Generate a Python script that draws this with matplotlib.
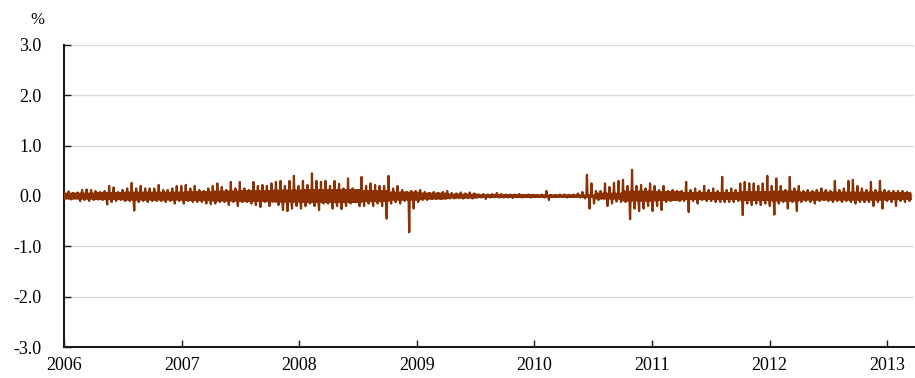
import matplotlib
matplotlib.use("Agg")
import matplotlib.pyplot as plt
import pandas as pd

plt.rcParams["font.family"] = ["Liberation Serif", "DejaVu Serif"]
plt.rcParams["axes.unicode_minus"] = False

# two-week highs / lows (%), 26 periods per year
hi_2006 = [0.07, 0.09, 0.06, 0.07, 0.12, 0.13, 0.12, 0.10, 0.08, 0.10, 0.20, 0.17, 0.08,
           0.12, 0.15, 0.26, 0.15, 0.20, 0.15, 0.15, 0.15, 0.22, 0.12, 0.12, 0.15, 0.20]
lo_2006 = [-0.05, -0.07, -0.05, -0.10, -0.08, -0.10, -0.08, -0.07, -0.08, -0.17, -0.12, -0.10, -0.08,
           -0.10, -0.10, -0.29, -0.12, -0.10, -0.12, -0.10, -0.10, -0.10, -0.12, -0.10, -0.15, -0.10]
hi_2007 = [0.20, 0.22, 0.15, 0.20, 0.12, 0.10, 0.15, 0.20, 0.25, 0.18, 0.12, 0.28, 0.15,
           0.28, 0.15, 0.12, 0.28, 0.20, 0.22, 0.20, 0.25, 0.28, 0.30, 0.20, 0.30, 0.40]
lo_2007 = [-0.15, -0.10, -0.12, -0.12, -0.12, -0.15, -0.16, -0.15, -0.12, -0.12, -0.18, -0.12, -0.20,
           -0.12, -0.12, -0.15, -0.18, -0.22, -0.12, -0.20, -0.10, -0.18, -0.28, -0.30, -0.25, -0.20]
hi_2008 = [0.20, 0.30, 0.22, 0.45, 0.30, 0.28, 0.30, 0.20, 0.30, 0.24, 0.15, 0.35, 0.15,
           0.12, 0.38, 0.20, 0.25, 0.22, 0.20, 0.20, 0.40, 0.15, 0.20, 0.12, 0.08, 0.10]
lo_2008 = [-0.25, -0.20, -0.15, -0.20, -0.28, -0.15, -0.15, -0.25, -0.20, -0.26, -0.20, -0.15, -0.12,
           -0.20, -0.20, -0.15, -0.20, -0.15, -0.20, -0.45, -0.15, -0.12, -0.15, -0.10, -0.72, -0.25]
hi_2009 = [0.10, 0.12, 0.08, 0.06, 0.08, 0.06, 0.08, 0.10, 0.06, 0.05, 0.07, 0.05, 0.07,
           0.05, 0.03, 0.04, 0.03, 0.04, 0.06, 0.04, 0.03, 0.03, 0.03, 0.04, 0.02, 0.03]
lo_2009 = [-0.12, -0.08, -0.08, -0.06, -0.06, -0.06, -0.05, -0.05, -0.05, -0.04, -0.05, -0.04, -0.05,
           -0.03, -0.03, -0.06, -0.03, -0.02, -0.03, -0.03, -0.03, -0.04, -0.02, -0.03, -0.02, -0.03]
hi_2010 = [0.02, 0.02, 0.03, 0.10, 0.02, 0.02, 0.03, 0.03, 0.02, 0.03, 0.05, 0.08, 0.42,
           0.25, 0.10, 0.10, 0.25, 0.18, 0.26, 0.30, 0.32, 0.20, 0.52, 0.20, 0.22, 0.15]
lo_2010 = [-0.02, -0.02, -0.03, -0.08, -0.02, -0.02, -0.02, -0.03, -0.02, -0.02, -0.03, -0.05, -0.25,
           -0.15, -0.08, -0.05, -0.20, -0.15, -0.11, -0.12, -0.12, -0.46, -0.25, -0.30, -0.25, -0.20]
hi_2011 = [0.25, 0.20, 0.12, 0.20, 0.10, 0.12, 0.10, 0.10, 0.28, 0.12, 0.15, 0.10, 0.20,
           0.12, 0.15, 0.10, 0.38, 0.12, 0.15, 0.12, 0.25, 0.28, 0.25, 0.25, 0.20, 0.25]
lo_2011 = [-0.30, -0.20, -0.28, -0.12, -0.10, -0.08, -0.10, -0.10, -0.32, -0.10, -0.15, -0.08, -0.10,
           -0.10, -0.12, -0.12, -0.12, -0.12, -0.12, -0.10, -0.38, -0.15, -0.18, -0.15, -0.18, -0.15]
hi_2012 = [0.40, 0.20, 0.35, 0.20, 0.12, 0.38, 0.15, 0.20, 0.10, 0.12, 0.10, 0.12, 0.15,
           0.12, 0.10, 0.30, 0.12, 0.15, 0.30, 0.32, 0.20, 0.15, 0.12, 0.28, 0.12, 0.30]
lo_2012 = [-0.20, -0.37, -0.15, -0.12, -0.25, -0.12, -0.30, -0.12, -0.10, -0.12, -0.15, -0.10, -0.08,
           -0.10, -0.12, -0.10, -0.12, -0.10, -0.12, -0.15, -0.12, -0.12, -0.12, -0.20, -0.12, -0.25]
hi_2013 = [0.12, 0.10, 0.10, 0.10, 0.10, 0.08]
lo_2013 = [-0.10, -0.12, -0.20, -0.10, -0.12, -0.10]

# typical day-to-day band (%), one value per quarter
band_q = [0.05, 0.06, 0.07, 0.07,
          0.08, 0.09, 0.10, 0.11,
          0.12, 0.12, 0.10, 0.07,
          0.05, 0.03, 0.02, 0.02,
          0.015, 0.015, 0.05, 0.09,
          0.08, 0.06, 0.06, 0.08,
          0.09, 0.07, 0.07, 0.07,
          0.06]

highs = hi_2006 + hi_2007 + hi_2008 + hi_2009 + hi_2010 + hi_2011 + hi_2012 + hi_2013
lows = lo_2006 + lo_2007 + lo_2008 + lo_2009 + lo_2010 + lo_2011 + lo_2012 + lo_2013

years = list(range(2006, 2014))
yticks = [3.0, 2.0, 1.0, 0.0, -1.0, -2.0, -3.0]

# lay the readings out inside each two-week period
starts = pd.date_range("2006-01-01", periods=len(highs), freq="14D")
dates = []
vals = []
for s, h, l in zip(starts, highs, lows):
    q = (s.year - 2006) * 4 + (s.month - 1) // 3
    b = band_q[q]
    seq = [h, -b, b, -b, l, b, -b]
    for k, v in enumerate(seq):
        dates.append(s + pd.Timedelta(days=2 * k))
        vals.append(v)

fig = plt.figure(figsize=(9.15, 3.78), dpi=100)
ax = fig.add_axes([0.070, 0.082, 0.929, 0.799])

ax.plot(dates, vals, color="#8b3103", lw=1.6, zorder=3)

ax.set_ylim(-3, 3)
ax.set_xlim(pd.Timestamp("2006-01-01"), pd.Timestamp("2013-03-25"))
ax.set_yticks(yticks)
ax.set_yticklabels(["%.1f" % v for v in yticks])
ax.set_xticks([pd.Timestamp(f"{y}-01-01") for y in years])
ax.set_xticklabels([str(y) for y in years])

ax.grid(axis="y", color="#d9d9d9", lw=1)
ax.set_axisbelow(True)
for side in ["top", "right"]:
    ax.spines[side].set_visible(False)
for side in ["left", "bottom"]:
    ax.spines[side].set_color("#1a1a1a")
    ax.spines[side].set_linewidth(1.5)

ax.tick_params(axis="y", direction="in", length=5, width=1, labelsize=13, pad=16, color="#1a1a1a")
ax.tick_params(axis="x", direction="in", length=5, width=1, labelsize=13, pad=7, color="#1a1a1a")

fig.text(37 / 915, 1 - 20 / 378, "%", fontsize=12, ha="center", va="center")

fig.savefig("out.png", dpi=100)
